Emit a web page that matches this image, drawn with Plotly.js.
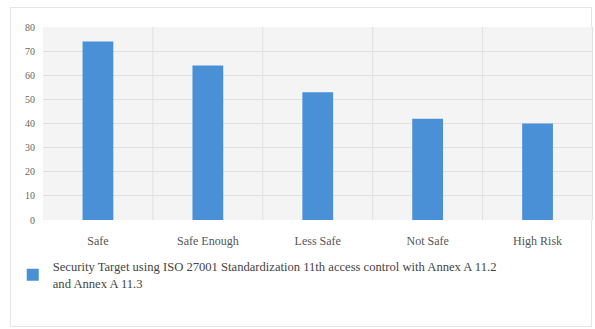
<!DOCTYPE html>
<html>
<head>
<meta charset="utf-8">
<script src="https://cdn.plot.ly/plotly-3.0.1.min.js"></script>
<style>
html,body{margin:0;padding:0;background:#fff;}
#frame{position:absolute;left:10px;top:7px;width:582px;height:320px;border:1px solid #e4e4e4;box-sizing:border-box;}
#chart{position:absolute;left:0;top:0;width:595px;height:329px;}
</style>
</head>
<body>
<div id="frame"></div>
<div id="chart"></div>
<script>
const categories = ["Safe", "Safe Enough", "Less Safe", "Not Safe", "High Risk"];
const values = [74, 64, 53, 42, 40];
const seriesName = "Security Target using ISO 27001 Standardization 11th access control with Annex A 11.2<br>and Annex A 11.3";
const yTicks = [0, 10, 20, 30, 40, 50, 60, 70, 80];
const categoryBoundaries = [0.5, 1.5, 2.5, 3.5, 4.5];
const SERIF = "'Liberation Serif', 'Times New Roman', 'DejaVu Serif', serif";

const trace = {
  type: "bar",
  x: categories,
  y: values,
  name: seriesName,
  width: 0.28,
  marker: {color: "#4a90d6"},
  showlegend: true
};

const layout = {
  width: 595,
  height: 329,
  margin: {l: 43, r: 2, t: 27, b: 109},
  paper_bgcolor: "rgba(0,0,0,0)",
  plot_bgcolor: "#f4f4f4",
  font: {family: SERIF, color: "#555"},
  xaxis: {
    type: "category",
    showgrid: false,
    zeroline: false,
    ticks: "",
    tickfont: {size: 12, color: "#555", family: SERIF},
    ticklabelstandoff: 12
  },
  yaxis: {
    range: [0, 80],
    tickvals: yTicks,
    showgrid: true,
    gridcolor: "#e0e0e0",
    zeroline: false,
    ticks: "",
    tickfont: {size: 10, color: "#666", family: SERIF},
    ticklabelstandoff: 7
  },
  shapes: categoryBoundaries.map(v => ({
    type: "line", xref: "x", yref: "paper", x0: v, x1: v, y0: 0, y1: 1,
    line: {color: "#e0e0e0", width: 1}
  })),
  showlegend: true,
  legend: {
    orientation: "h",
    x: -0.055,
    xanchor: "left",
    y: -0.165,
    yanchor: "top",
    font: {size: 12.6, color: "#444", family: SERIF},
    bgcolor: "rgba(0,0,0,0)",
    itemwidth: 30
  }
};

Plotly.newPlot("chart", [trace], layout, {displayModeBar: false, staticPlot: true});
</script>
</body>
</html>
